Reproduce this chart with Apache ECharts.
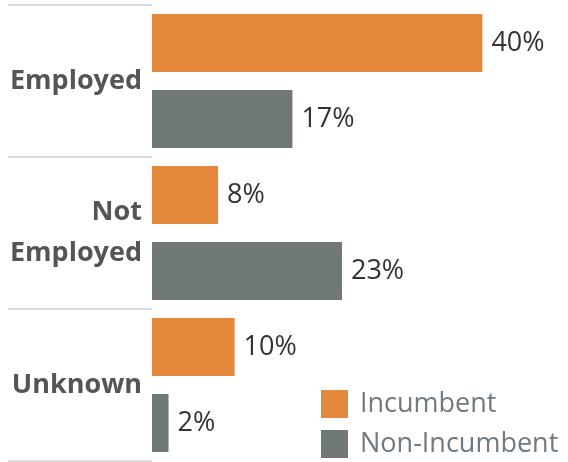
<!DOCTYPE html>
<html><head><meta charset="utf-8">
<script src="https://cdn.jsdelivr.net/npm/echarts@6/dist/echarts.min.js"></script>
<style>html,body{margin:0;padding:0;background:#fff}#c{width:568px;height:462px}</style>
</head><body><div id="c"></div>
<script>
const categories = ['Employed', 'Not\nEmployed', 'Unknown'];
const incumbent = [40, 8, 10];
const nonIncumbent = [17, 23, 2];
const seriesNames = ['Incumbent', 'Non-Incumbent'];

const chart = echarts.init(document.getElementById('c'));
const font = '"Open Sans", sans-serif';
const labelCfg = {
  show: true, position: 'right', distance: 9, formatter: '{c}%',
  color: '#333', fontSize: 27, fontFamily: font
};
const legendBase = {
  left: 321, icon: 'rect', itemWidth: 27, itemHeight: 28, padding: 0,
  textStyle: { color: '#707a80', fontSize: 27, fontFamily: font, padding: [0, 0, 0, 7] }
};
chart.setOption({
  animation: false,
  grid: { left: 152, right: 3, top: 5, bottom: 1, containLabel: false },
  legend: [
    Object.assign({}, legendBase, { top: 390, data: [seriesNames[0]] }),
    Object.assign({}, legendBase, { top: 430, data: [seriesNames[1]] })
  ],
  xAxis: { type: 'value', min: 0, max: 50, show: false },
  yAxis: {
    type: 'category', data: categories, inverse: true,
    axisLine: { show: false },
    axisTick: { show: true, length: 144, lineStyle: { color: '#dcdcdc', width: 2 } },
    axisLabel: { margin: 10, color: '#555', fontWeight: 'bold', fontSize: 27, fontFamily: font, lineHeight: 41, align: 'right', padding: [4, 0, 0, 0] }
  },
  series: [
    { name: seriesNames[0], type: 'bar', data: incumbent, barWidth: 58, barGap: '31%',
      itemStyle: { color: '#e4893b' }, label: labelCfg },
    { name: seriesNames[1], type: 'bar', data: nonIncumbent, barWidth: 58, barGap: '31%',
      itemStyle: { color: '#707873' }, label: labelCfg }
  ]
});
</script></body></html>
